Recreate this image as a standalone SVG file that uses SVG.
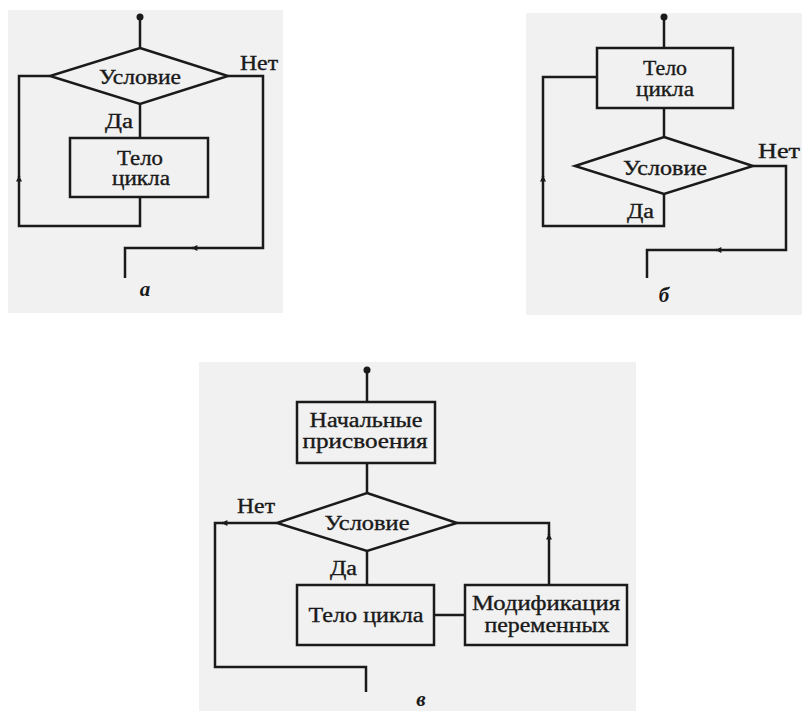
<svg xmlns="http://www.w3.org/2000/svg" width="802" height="711" viewBox="0 0 802 711">
<style>
.bg{fill:#f1f1f1;stroke:none}
.shape{fill:none;stroke:#1a1a1a;stroke-width:2.5}
.ln{fill:none;stroke:#1a1a1a;stroke-width:2.5}
.t{font-family:"Liberation Serif","Times New Roman",serif;font-size:20px;fill:#1a1a1a;stroke:#1a1a1a;stroke-width:0.35}
.c{text-anchor:middle}
.lbl{font-family:"Liberation Serif","Times New Roman",serif;font-size:21px;font-style:italic;font-weight:bold;fill:#1a1a1a;text-anchor:middle}
.dot{fill:#1a1a1a}
</style>
<defs>
<marker id="arr" viewBox="0 0 10 10" refX="9" refY="5" markerWidth="8" markerHeight="6" markerUnits="userSpaceOnUse" orient="auto">
<path d="M0,0 L10,5 L0,10 z" fill="#1a1a1a"/>
</marker>
</defs>
<rect class="bg" x="8" y="10" width="275" height="303"/>
<rect class="bg" x="526" y="13" width="276" height="302"/>
<rect class="bg" x="199" y="362" width="437" height="349"/>

<g id="connectors">
<path class="ln" d="M140,17 V48"/>
<path class="ln" d="M140,104 V138"/>
<path class="ln" d="M140,197 V226 H19 V176" marker-end="url(#arr)"/>
<path class="ln" d="M19,177 V76 H50"/>
<path class="ln" d="M228,76 H263 V248 H192" marker-end="url(#arr)"/>
<path class="ln" d="M193,248 H125 V278"/>
<path class="ln" d="M664,17 V48"/>
<path class="ln" d="M664,108 V137"/>
<path class="ln" d="M664,194 V226 H543 V176" marker-end="url(#arr)"/>
<path class="ln" d="M543,177 V77 H597"/>
<path class="ln" d="M753,166 H786 V250 H716" marker-end="url(#arr)"/>
<path class="ln" d="M717,250 H647 V278"/>
<path class="ln" d="M367,370 V402"/>
<path class="ln" d="M367,463 V493"/>
<path class="ln" d="M367,551 V585"/>
<path class="ln" d="M434,615 H465"/>
<path class="ln" d="M277,523 H222" marker-end="url(#arr)"/>
<path class="ln" d="M223,523 H215 V667 H366 V692"/>
<path class="ln" d="M549,585 V534" marker-end="url(#arr)"/>
<path class="ln" d="M549,535 V523 H457"/>
</g>

<g id="a-start"><circle class="dot" cx="140" cy="17" r="3.5"/></g>
<g id="a-cond">
<polygon class="shape" points="140,48 228,76 140,104 50,76"/>
<text class="t c" x="140" y="84" textLength="82" lengthAdjust="spacingAndGlyphs">Условие</text>
</g>
<g id="a-body">
<rect class="shape" x="70" y="138" width="138" height="59"/>
<text class="t c" x="140" y="165" textLength="46" lengthAdjust="spacingAndGlyphs">Тело</text>
<text class="t c" x="141" y="185" textLength="58" lengthAdjust="spacingAndGlyphs">цикла</text>
</g>
<g id="a-labels">
<text class="t" x="240" y="70" textLength="38" lengthAdjust="spacingAndGlyphs">Нет</text>
<text class="t" x="105" y="128" textLength="28" lengthAdjust="spacingAndGlyphs">Да</text>
<text class="lbl" x="145" y="296">а</text>
</g>

<g id="b-start"><circle class="dot" cx="664" cy="17" r="3.5"/></g>
<g id="b-body">
<rect class="shape" x="597" y="48" width="136" height="60"/>
<text class="t c" x="665" y="75" textLength="44" lengthAdjust="spacingAndGlyphs">Тело</text>
<text class="t c" x="665" y="96" textLength="58" lengthAdjust="spacingAndGlyphs">цикла</text>
</g>
<g id="b-cond">
<polygon class="shape" points="664,137 753,166 664,194 575,166"/>
<text class="t c" x="665" y="175" textLength="84" lengthAdjust="spacingAndGlyphs">Условие</text>
</g>
<g id="b-labels">
<text class="t" x="758" y="158" textLength="42" lengthAdjust="spacingAndGlyphs">Нет</text>
<text class="t" x="627" y="218" textLength="27" lengthAdjust="spacingAndGlyphs">Да</text>
<text class="lbl" x="664" y="302">б</text>
</g>

<g id="v-start"><circle class="dot" cx="367" cy="370" r="3.5"/></g>
<g id="v-init">
<rect class="shape" x="297" y="402" width="138" height="61"/>
<text class="t c" x="366" y="427" textLength="113" lengthAdjust="spacingAndGlyphs">Начальные</text>
<text class="t c" x="365" y="448" textLength="125" lengthAdjust="spacingAndGlyphs">присвоения</text>
</g>
<g id="v-cond">
<polygon class="shape" points="367,493 457,523 367,551 277,523"/>
<text class="t c" x="367" y="530" textLength="85" lengthAdjust="spacingAndGlyphs">Условие</text>
</g>
<g id="v-body">
<rect class="shape" x="297" y="585" width="137" height="60"/>
<text class="t c" x="366" y="622" textLength="115" lengthAdjust="spacingAndGlyphs">Тело цикла</text>
</g>
<g id="v-mod">
<rect class="shape" x="465" y="585" width="162" height="60"/>
<text class="t c" x="546" y="610" textLength="148" lengthAdjust="spacingAndGlyphs">Модификация</text>
<text class="t c" x="547" y="632" textLength="125" lengthAdjust="spacingAndGlyphs">переменных</text>
</g>
<g id="v-labels">
<text class="t" x="237" y="513" textLength="38" lengthAdjust="spacingAndGlyphs">Нет</text>
<text class="t" x="330" y="575" textLength="27" lengthAdjust="spacingAndGlyphs">Да</text>
<text class="lbl" x="421" y="706">в</text>
</g>
</svg>
